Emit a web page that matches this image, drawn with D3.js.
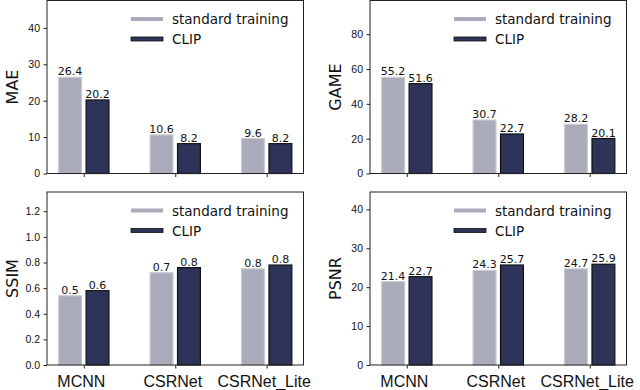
<!DOCTYPE html>
<html>
<head>
<meta charset="utf-8">
<style>
  body { margin: 0; background: #fff; }
  svg { font-family: "DejaVu Sans", sans-serif; }
</style>
</head>
<body>
<script src="https://d3js.org/d3.v7.min.js"></script>
<svg width="640" height="390"></svg>
<script>
// data
const models = ["MCNN", "CSRNet", "CSRNet_Lite"];
const series = ["standard training", "CLIP"];
const metrics = ["MAE", "GAME", "SSIM", "PSNR"];
const maeStd = [26.4, 10.6, 9.6];
const maeClip = [20.2, 8.2, 8.2];
const gameStd = [55.2, 30.7, 28.2];
const gameClip = [51.6, 22.7, 20.1];
const ssimStd = [0.54, 0.72, 0.75];
const ssimClip = [0.58, 0.76, 0.78];
const psnrStd = [21.4, 24.3, 24.7];
const psnrClip = [22.7, 25.7, 25.9];
const maeTicks = [0, 10, 20, 30, 40];
const gameTicks = [0, 20, 40, 60, 80];
const ssimTicks = [0, 0.2, 0.4, 0.6, 0.8, 1.0, 1.2];
const psnrTicks = [0, 10, 20, 30, 40];

const panels = [
  {name: "MAE", std: maeStd, clip: maeClip, ticks: maeTicks, tf: d3.format("d"), col: 0, row: 0},
  {name: "GAME", std: gameStd, clip: gameClip, ticks: gameTicks, tf: d3.format("d"), col: 1, row: 0},
  {name: "SSIM", std: ssimStd, clip: ssimClip, ticks: ssimTicks, tf: d3.format(".1f"), col: 0, row: 1},
  {name: "PSNR", std: psnrStd, clip: psnrClip, ticks: psnrTicks, tf: d3.format("d"), col: 1, row: 1}
];
const lf = d3.format(".1f");

const colors = ["#aaabba", "#2e3459"];
const edges = ["#c9c9cf", "#111111"];
const lefts = [47, 370], tops = [0.5, 192];
const W = 256.5, H = 173;
const barW = 0.25, offs = [-0.15, 0.15];

const svg = d3.select("svg");

panels.forEach(p => {
  const g = svg.append("g")
    .attr("transform", `translate(${lefts[p.col]},${tops[p.row]})`);
  const x = d3.scaleLinear().domain([-0.4025, 2.4025]).range([0, W]);
  const y = d3.scaleLinear().domain([0, d3.max(p.std) * 1.8]).range([H, 0]);

  [p.std, p.clip].forEach((vals, s) => {
    g.selectAll(null)
      .data(vals)
      .enter()
      .append("rect")
      .attr("x", (d, i) => x(i + offs[s] - barW / 2))
      .attr("width", x(barW) - x(0))
      .attr("y", d => y(d))
      .attr("height", d => H - y(d))
      .style("fill", colors[s])
      .style("stroke", edges[s])
      .style("stroke-width", 1.2);
    g.selectAll(null)
      .data(vals)
      .enter()
      .append("text")
      .attr("x", (d, i) => x(i + offs[s]))
      .attr("y", d => y(d) - 2)
      .attr("text-anchor", "middle")
      .style("font-size", "11px")
      .style("fill", "#111")
      .text(d => lf(d));
  });

  const yAxis = d3.axisLeft(y).tickValues(p.ticks).tickFormat(p.tf).tickSize(3.5).tickPadding(3.5);
  const ya = g.append("g").call(yAxis);
  ya.select(".domain").remove();
  ya.selectAll("text").style("font-size", "10.5px").style("fill", "#111");
  ya.selectAll("line").style("stroke", "#222");

  const xAxis = d3.axisBottom(x).tickValues([0, 1, 2]).tickSize(3.5)
    .tickFormat(p.row === 1 ? (i => models[i]) : () => "");
  const xa = g.append("g").attr("transform", `translate(0,${H})`).call(xAxis);
  xa.select(".domain").remove();
  xa.selectAll("text").style("font-size", "16px").style("fill", "#111")
    .attr("y", 22).attr("dy", 0).attr("dx", -3);
  xa.selectAll("line").style("stroke", "#222");

  g.append("rect")
    .attr("width", W).attr("height", H)
    .style("fill", "none").style("stroke", "#222").style("stroke-width", 1);

  g.append("text")
    .attr("transform", `translate(-29.5,${H / 2}) rotate(-90)`)
    .attr("text-anchor", "middle")
    .style("font-size", "16px")
    .style("fill", "#111")
    .text(p.name);

  // legend
  const lg = g.append("g").attr("transform", "translate(84,16.5)");
  series.forEach((s, i) => {
    lg.append("rect")
      .attr("x", 0).attr("y", i * 20)
      .attr("width", 32).attr("height", 4)
      .style("fill", colors[i])
      .style("stroke", i === 1 ? "#111" : "none")
      .style("stroke-width", 0.8);
    lg.append("text")
      .attr("x", 41).attr("y", i * 20 + 7)
      .style("font-size", "13.5px")
      .style("fill", "#111")
      .text(s);
  });
});
</script>
</body>
</html>
